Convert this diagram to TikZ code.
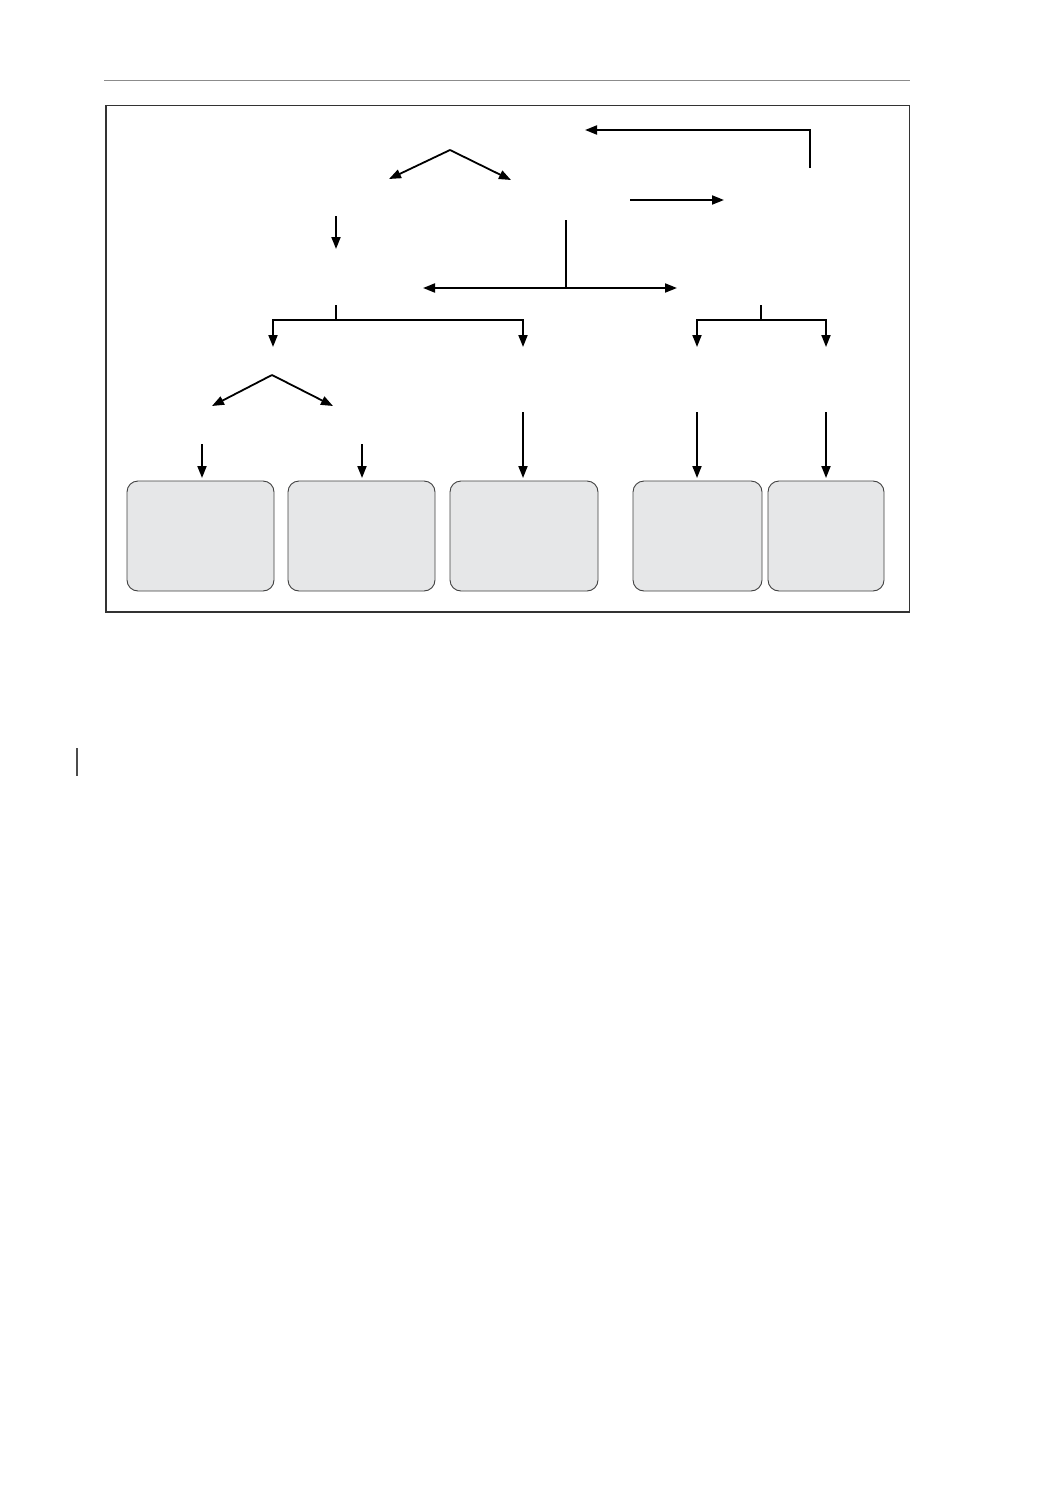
\documentclass[tikz,border=0pt]{standalone}
\usetikzlibrary{arrows.meta}
\definecolor{boxfill}{HTML}{E6E7E8}
\definecolor{rulegray}{HTML}{8C8C8C}
\begin{document}
\begin{tikzpicture}[x=1pt,y=-1pt,
  conn/.style={line width=1.8pt,-{Triangle[length=12pt,width=9pt]}},
  plain/.style={line width=1.8pt},
  leaf/.style={draw=black!75,line width=0.9pt,fill=boxfill,rounded corners=11pt}]
\useasboundingbox (0,0) rectangle (1052,1485);
% page rule and frame
\draw[rulegray,line width=1.2pt] (104,80.5) -- (910,80.5);
\draw[black!80,line width=1.1pt] (106,105.5) rectangle (909.5,612);
\draw[black!70,line width=1.4pt] (77,748) -- (77,776);
% leaf boxes
\draw[leaf] (127,481) rectangle (274,591);
\draw[leaf] (288,481) rectangle (435,591);
\draw[leaf] (450,481) rectangle (598,591);
\draw[leaf] (633,481) rectangle (762,591);
\draw[leaf] (768,481) rectangle (884,591);
% coordinates
\coordinate (fb) at (810,168);
\coordinate (fc) at (810,130);
\coordinate (ft) at (585,130);
\coordinate (ca) at (450,150);
\coordinate (cl) at (389,179);
\coordinate (cr) at (511,180);
\coordinate (ra) at (630,200);
\coordinate (rb) at (724,200);
\coordinate (da) at (336,216);
\coordinate (db) at (336,249);
\coordinate (ta) at (566,220);
\coordinate (tb) at (566,288);
\coordinate (tl) at (423,288);
\coordinate (tr) at (677,288);
\coordinate (lb) at (336,305);
\coordinate (lj) at (336,320);
\coordinate (ll) at (273,320);
\coordinate (lr) at (523,320);
\coordinate (lld) at (273,347);
\coordinate (lrd) at (523,347);
\coordinate (rbs) at (761,305);
\coordinate (rj) at (761,320);
\coordinate (rl) at (697,320);
\coordinate (rr) at (826,320);
\coordinate (rld) at (697,347);
\coordinate (rrd) at (826,347);
\coordinate (ka) at (272,375);
\coordinate (kl) at (212,406);
\coordinate (kr) at (333,406);
\coordinate (a1) at (202,444);
\coordinate (b1) at (202,478);
\coordinate (a2) at (362,444);
\coordinate (b2) at (362,478);
\coordinate (a3) at (523,412);
\coordinate (b3) at (523,478);
\coordinate (a4) at (697,412);
\coordinate (b4) at (697,478);
\coordinate (a5) at (826,412);
\coordinate (b5) at (826,478);
% connectors
\draw[conn] (fb) -- (fc) -- (ft);
\draw[conn] (ca) -- (cl);
\draw[conn] (ca) -- (cr);
\draw[conn] (ra) -- (rb);
\draw[conn] (da) -- (db);
\draw[plain] (ta) -- (tb);
\draw[conn] (tb) -- (tl);
\draw[conn] (tb) -- (tr);
\draw[plain] (lb) -- (lj);
\draw[conn] (lj) -- (ll) -- (lld);
\draw[conn] (lj) -- (lr) -- (lrd);
\draw[plain] (rbs) -- (rj);
\draw[conn] (rj) -- (rl) -- (rld);
\draw[conn] (rj) -- (rr) -- (rrd);
\draw[conn] (ka) -- (kl);
\draw[conn] (ka) -- (kr);
\draw[conn] (a1) -- (b1);
\draw[conn] (a2) -- (b2);
\draw[conn] (a3) -- (b3);
\draw[conn] (a4) -- (b4);
\draw[conn] (a5) -- (b5);
\end{tikzpicture}
\end{document}
